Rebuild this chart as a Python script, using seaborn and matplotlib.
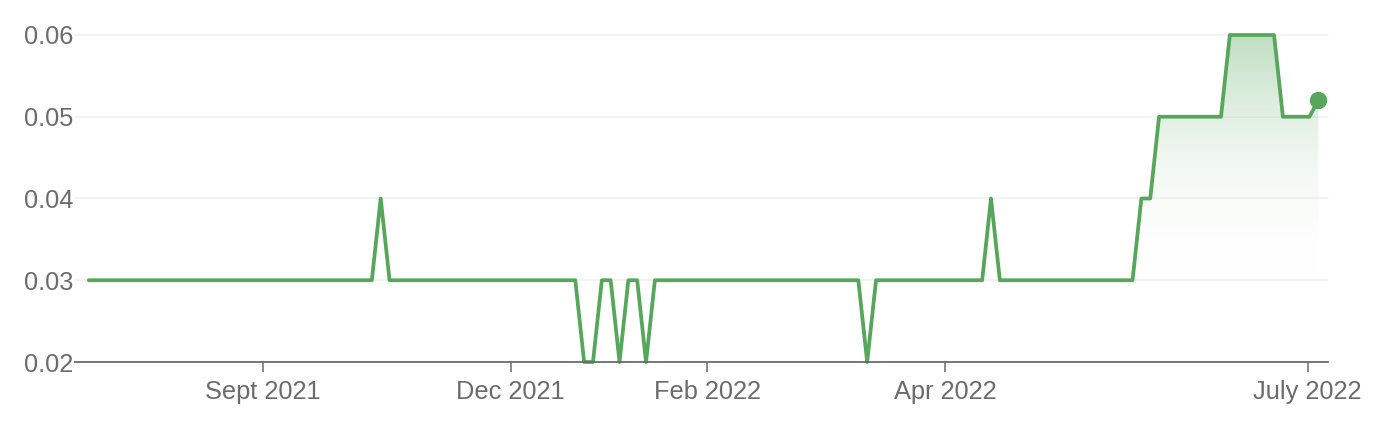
import numpy as np
import pandas as pd
import matplotlib
matplotlib.use("Agg")
import matplotlib.pyplot as plt
import seaborn as sns
from matplotlib.colors import LinearSegmentedColormap

# ---------------- data (one value per sample, equally spaced / ordinal axis) ----------------
values = (
    [0.03] * 33 + [0.04] + [0.03] * 22
    + [0.02, 0.02, 0.03, 0.03, 0.02, 0.03, 0.03, 0.02]
    + [0.03] * 24 + [0.02] + [0.03] * 13 + [0.04] + [0.03] * 16
    + [0.04, 0.04] + [0.05] * 8 + [0.06] * 6 + [0.05] * 4 + [0.052]
)
tick_labels = ["Sept 2021", "Dec 2021", "Feb 2022", "Apr 2022", "July 2022"]
tick_index = [19.7, 47.7, 69.9, 96.8, 137.8]   # positions in sample index units
y_ticks = [0.02, 0.03, 0.04, 0.05, 0.06]
highlight_start = 118   # first sample of the shaded section

df = pd.DataFrame({"i": np.arange(len(values)), "v": values})

GREEN = "#56a65b"
GRAY = "#6b6b6b"

sns.set_theme(style="white")
plt.rcParams["font.family"] = ["Liberation Sans", "DejaVu Sans"]

fig = plt.figure(figsize=(13.88, 4.30), dpi=100)
ax = fig.add_axes([75 / 1388, 68 / 430, (1328 - 75) / 1388, (362 - 35) / 430])

# grid lines
for yv in y_ticks[1:]:
    ax.axhline(yv, color="#f1f1f1", lw=1.2, zorder=0, clip_on=False)

# gradient fill under last section
sub = df[df["i"] >= highlight_start]
poly = ax.fill_between(sub["i"], 0.03, sub["v"], facecolor="none", edgecolor="none")
cmap = LinearSegmentedColormap.from_list(
    "g", [(1, 1, 1, 0.0), (86 / 255, 166 / 255, 91 / 255, 0.38)])
grad = np.linspace(0, 1, 256).reshape(-1, 1)
im = ax.imshow(grad, cmap=cmap, aspect="auto", origin="lower",
               extent=[sub["i"].min(), sub["i"].max(), 0.03, 0.06], zorder=1,
               clip_on=True)
im.set_clip_path(poly.get_paths()[0], transform=ax.transData)

sns.lineplot(data=df, x="i", y="v", ax=ax, color=GREEN, lw=2.7, zorder=3,
             clip_on=False)
last = df.iloc[-1]
ax.plot([last["i"]], [last["v"]], "o", color=GREEN, ms=11.5, zorder=4, clip_on=False)

ax.set_xlim(-1.56, 140.1)
ax.set_ylim(0.02, 0.06)
ax.set_xlabel("")
ax.set_ylabel("")

ax.set_yticks(y_ticks)
ax.set_yticklabels([f"{t:.2f}" for t in y_ticks])
ax.set_xticks(tick_index)
ax.set_xticklabels(tick_labels)

for s in ["top", "right", "left"]:
    ax.spines[s].set_visible(False)
ax.spines["bottom"].set_color(GRAY)
ax.spines["bottom"].set_linewidth(1.3)
ax.spines["bottom"].set_zorder(5)

ax.tick_params(axis="y", length=0, pad=1.5, labelsize=18.3, labelcolor=GRAY)
ax.tick_params(axis="x", length=7, width=1.1, color=GRAY, pad=6,
               labelsize=18.3, labelcolor=GRAY, bottom=True)
ax.grid(False)

fig.savefig("out.png", dpi=100, facecolor="white")
